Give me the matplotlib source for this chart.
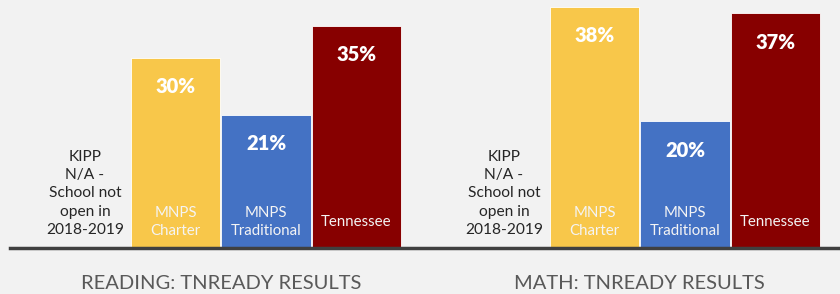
import matplotlib.pyplot as plt
import numpy as np

# Daten
groups = ['READING: TNREADY RESULTS', 'MATH: TNREADY RESULTS']
bar_labels = ['MNPS\nCharter', 'MNPS\nTraditional', 'Tennessee']
reading = [30, 21, 35]
math_vals = [38, 20, 37]
kipp_note = 'KIPP\nN/A -\nSchool not\nopen in\n2018-2019'

colors = ['#F8C74A', '#4472C4', '#870000']
bg = '#F2F2F2'

plt.rcParams['font.family'] = ['Lato', 'DejaVu Sans']

fig = plt.figure(figsize=(8.4, 2.94), dpi=100)
fig.patch.set_facecolor(bg)
ax = fig.add_axes([0, 0.156, 1, 0.844])
ax.set_facecolor(bg)

group_offsets = [0.0, 4.63]
series = [reading, math_vals]

for g, (off, vals, title) in enumerate(zip(group_offsets, series, groups)):
    # KIPP-Slot ohne Balken, nur Hinweistext
    ax.text(off, 8.6, kipp_note, ha='center', va='center', fontsize=11.2,
            color='#262626', linespacing=1.38)
    xs = off + np.arange(1, len(vals) + 1)
    bars = ax.bar(xs, vals, width=0.985, color=colors,
                  edgecolor='#FFFFFF', linewidth=0.6)
    for x, v, lab in zip(xs, vals, bar_labels):
        ax.annotate(f'{v}%', (x, v), xytext=(0, -21), textcoords='offset points',
                    ha='center', va='center', fontsize=14.5, fontweight='heavy',
                    color='white')
        ax.text(x, 4.17, lab, ha='center', va='center', fontsize=10.8,
                color='#F4F4F4', linespacing=1.35)
    ax.text(off + 1.5, -5.5, title, ha='center', va='center', fontsize=14.5,
            color='#595959', clip_on=False)

# Grundlinie
ax.axhline(0, xmin=10 / 840, xmax=1, color='#404040', linewidth=2.5,
           clip_on=False, zorder=5)

ax.set_xlim(-0.939, 8.343)
ax.set_ylim(0, 39.05)
ax.axis('off')

fig.savefig('out.png', dpi=100, facecolor=bg)
